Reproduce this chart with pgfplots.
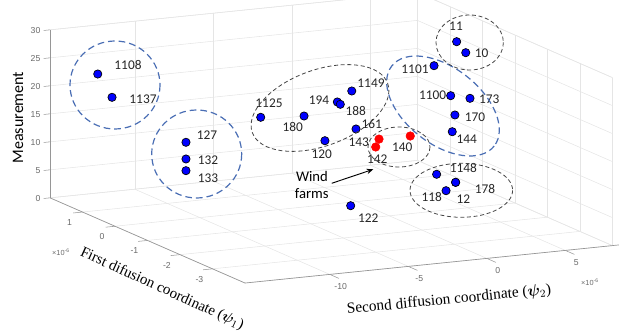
\documentclass[border=0pt]{standalone}
\usepackage{pgfplots}
\pgfplotsset{compat=1.18}
\usepackage{fontspec}
\setmainfont{Carlito}
\newfontfamily\timesf{Liberation Serif}
\newfontfamily\helv{Liberation Sans}
\usepackage{bm}
\usetikzlibrary{arrows.meta}
\definecolor{ellblue}{RGB}{74,110,180}
\definecolor{ellgray}{RGB}{70,70,70}
\definecolor{tickgray}{RGB}{105,105,105}
\definecolor{axgray}{RGB}{150,150,150}
\begin{document}
\begin{tikzpicture}
\begin{axis}[
  x={(11.775pt,1.2pt)}, y={(-24.375pt,10.65pt)}, z={(0pt,4.2pt)},
  xmin=-15.4, xmax=8, ymin=-4, ymax=2, zmin=0, zmax=30,
  xtick={-10,-5,0,5}, ytick={-3,-2,-1,0,1}, ztick={0,5,10,15,20,25,30},
  xticklabels={}, yticklabels={}, zticklabels={},
  grid=major, major grid style={black!10, line width=0.4pt},
  axis line style={black!10, line width=0.4pt},
  tick style={draw=none},
  clip=false,
]
% blue stations (psi2, psi1, measurement)
\addplot3[only marks, mark=*, mark size=3.1pt,
  mark options={fill=blue, draw=black, line width=0.5pt}] coordinates {
  (-14.43,1,24.37) (-13.52,1,19.95)
  (-10.88,0,13.70) (-10.88,0,10.72) (-10.88,0,8.63)
  (-8.19,-1,19.93) (-5.43,-1,19.37) (-3.31,-1,21.27) (-3.12,-1,20.80)
  (-2.39,-1,22.97) (-2.12,-1,16.11) (-4.10,-1,14.58)
  (2.85,-1,25.99) (3.91,-1,20.33) (5.14,-1,19.51) (4.18,-1,16.81) (4.01,-1,13.87)
  (6.36,0,26.74) (6.94,0,24.61)
  (-0.09,-2.5,11.24) (1.12,-2.5,9.46) (1.12,-2.5,9.46) (0.51,-2.5,8.14)
  (-6.60,-3,8.76)
};
% wind farms
\addplot3[only marks, mark=*, mark size=3.2pt,
  mark options={fill=red, draw=red}] coordinates {
  (-1.69,-1.5,15.45) (-1.90,-1.5,14.10) (0.30,-1.5,15.43)
};
\coordinate (O) at (axis cs:0,0,0);
% axis lines
\draw[axgray, line width=0.5pt] (axis cs:-15.4,2,0) -- (axis cs:-15.4,2,30);
\draw[axgray, line width=0.5pt] (axis cs:-15.4,2,0) -- (axis cs:-15.4,-4,0);
\draw[axgray, line width=0.5pt] (axis cs:-15.4,-4,0) -- (axis cs:8.6,-4,0);
\pgfplotsinvokeforeach{0,5,10,15,20,25,30}{
  \draw[axgray] (axis cs:-15.4,2,#1) -- (axis cs:-15.8,2,#1);
  \node[anchor=east, inner sep=0pt, text=tickgray, font=\helv\fontsize{6.5}{7}\selectfont] at (axis cs:-16.0,2,#1) {#1};
}
\pgfplotsinvokeforeach{-3,-2,-1,0,1}{
  \draw[axgray] (axis cs:-15.4,#1,0) -- (axis cs:-16.0,#1,0);
  \node[inner sep=0pt, text=tickgray, font=\helv\fontsize{6.5}{7}\selectfont, xshift=-9.8pt, yshift=-7.8pt] at (axis cs:-15.4,#1,0) {#1};
}
\pgfplotsinvokeforeach{-10,-5,0,5}{
  \draw[axgray] (axis cs:#1,-4,0) -- (axis cs:#1,-4.28,0);
  \node[inner sep=0pt, text=tickgray, font=\helv\fontsize{6.5}{7}\selectfont, xshift=8.2pt, yshift=-9.4pt] at (axis cs:#1,-4,0) {#1};
}
\end{axis}
\begin{scope}[shift={(O)}, x=0.75pt, y=-0.75pt, shift={(-356.8,-201.6)}]
% axis titles
\node[rotate=90, font=\fontsize{12}{14}\selectfont] at (18,117.5) {Measurement};
\node[rotate=-24.5, inner sep=1pt, font=\timesf\fontsize{11.2}{13}\selectfont] at (162,289) {First difusion coordinate ($\bm{\psi}_1$)};
\node[rotate=5.5, inner sep=1pt, font=\timesf\fontsize{11.5}{13}\selectfont] at (449,300) {Second diffusion coordinate ($\bm{\psi}_2$)};
\node[text=tickgray, font=\helv\fontsize{5.5}{6}\selectfont] at (61,252) {×10\textsuperscript{-6}};
\node[text=tickgray, font=\helv\fontsize{5.5}{6}\selectfont] at (590,282) {×10\textsuperscript{-6}};
% point labels
\begin{scope}[every node/.style={font=\fontsize{10}{12}\selectfont, text=black!85, inner sep=0pt}]
\node at (128,65) {1108};
\node at (143,99) {1137};
\node at (207,135) {127};
\node at (208,160) {132};
\node at (208,178) {133};
\node at (269,103) {1125};
\node at (292.7,126.7) {180};
\node at (319,100) {194};
\node at (355.7,111) {188};
\node at (371,83) {1149};
\node at (371.7,124.3) {161};
\node at (321.7,154.3) {120};
\node at (358.7,142.7) {143};
\node at (377.3,159.3) {142};
\node at (402.3,147.3) {140};
\node at (415,69) {1101};
\node at (456,26) {11};
\node at (481.7,53.3) {10};
\node at (432.7,95.7) {1100};
\node at (489.3,99.3) {173};
\node at (475,117.3) {170};
\node at (466.7,139.3) {144};
\node at (463.3,168.3) {1148};
\node at (463.3,199.3) {12};
\node at (431.7,196.7) {118};
\node at (485,189.3) {178};
\node at (368.3,218.3) {122};
\end{scope}
\node[font=\fontsize{11}{13}\selectfont, inner sep=0pt] at (312,176.7) {Wind};
\node[font=\fontsize{11}{13}\selectfont, inner sep=0pt] at (311.7,194) {farms};
\draw[-{Stealth[length=5pt,width=4pt]}, line width=0.7pt] (331.7,183.3) -- (373.3,169.3);
% cluster ellipses
\begin{scope}[ellblue, line width=0.9pt, dash pattern=on 5pt off 3pt]
\draw (115,85) ellipse [x radius=45, y radius=44];
\draw (196.7,154) ellipse [x radius=45, y radius=44];
\draw[rotate around={-38:(443,106)}] (443,106) ellipse [x radius=65, y radius=38];
\end{scope}
\begin{scope}[ellgray, line width=0.6pt, dash pattern=on 3pt off 2pt]
\draw[rotate around={20:(320,108)}] (320,108) ellipse [x radius=72, y radius=38];
\draw (469.7,42.5) ellipse [x radius=33.7, y radius=27.5];
\draw (399,147) ellipse [x radius=31, y radius=20];
\draw (461.3,190.3) ellipse [x radius=51.3, y radius=27];
\end{scope}
\pgfresetboundingbox
\path[use as bounding box] (0,0) rectangle (619,335);
\end{scope}
\end{tikzpicture}
\end{document}
